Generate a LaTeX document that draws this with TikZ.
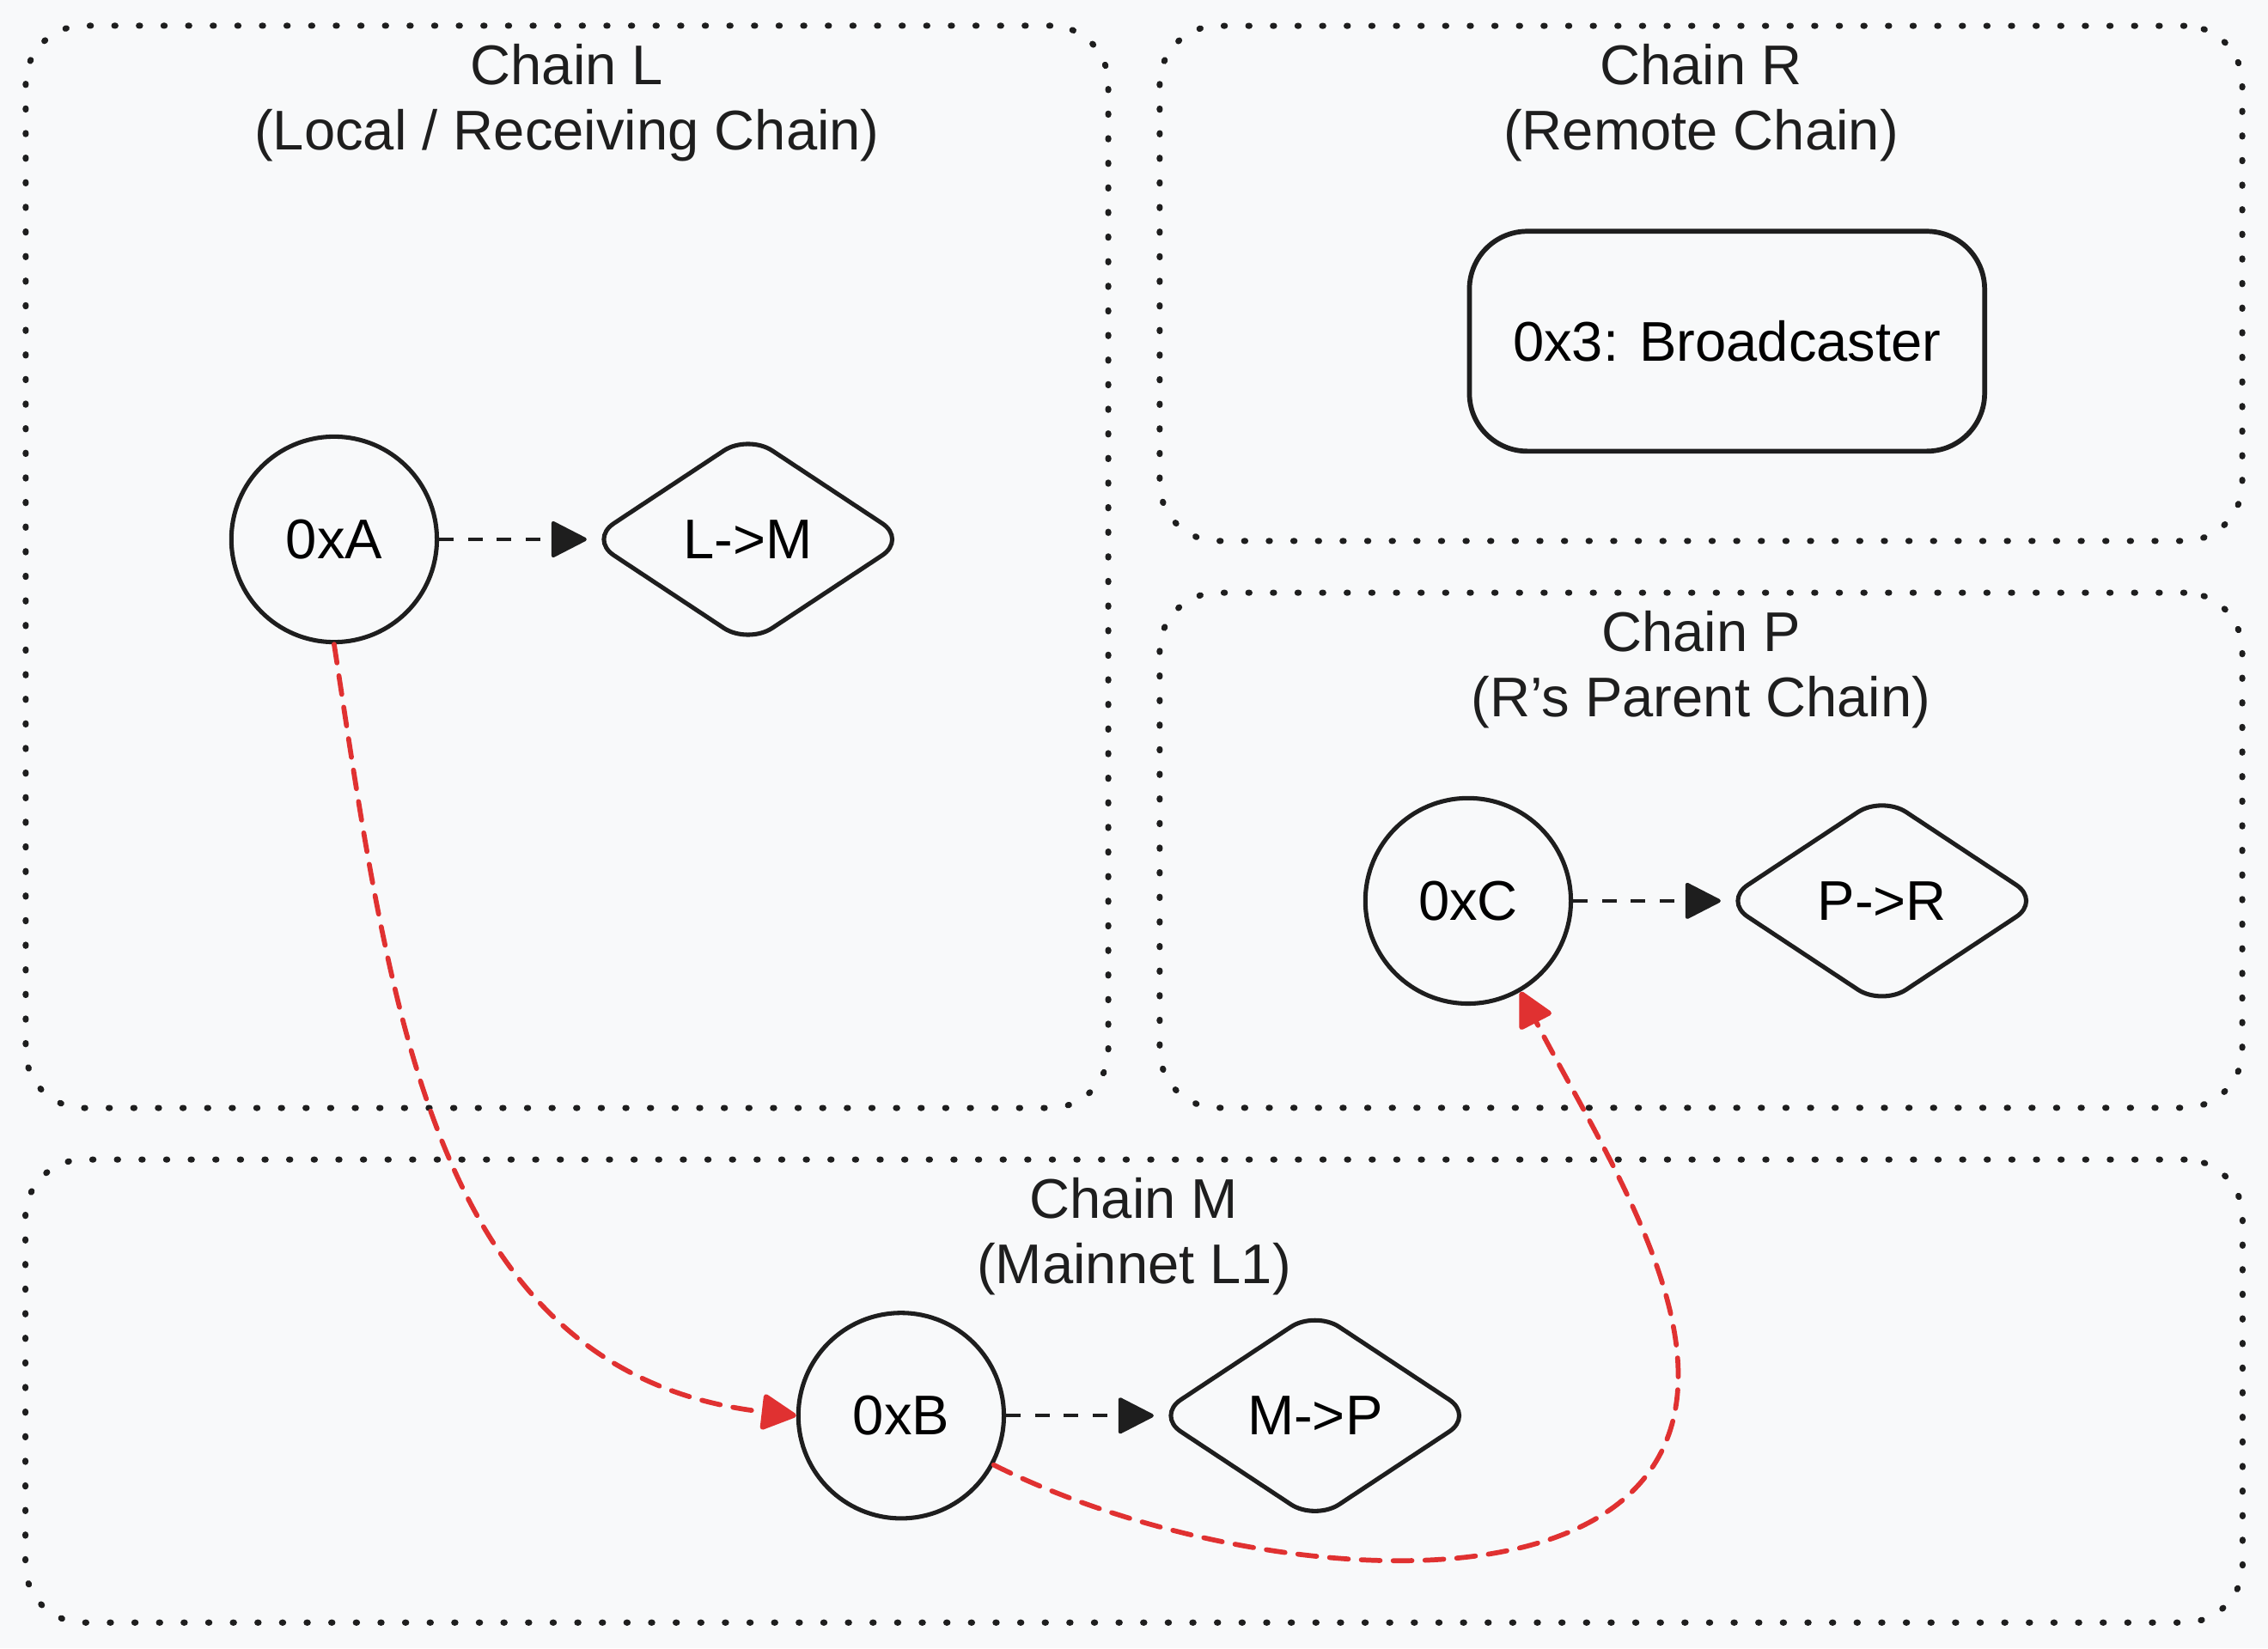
\documentclass[tikz,border=0pt]{standalone}
\usepackage{fontspec}
\setmainfont{Liberation Sans}
\usetikzlibrary{positioning,shapes.geometric,arrows.meta}
\definecolor{paper}{HTML}{F8F9FA}
\definecolor{ink}{HTML}{1E1E1E}
\definecolor{relayred}{HTML}{E03131}

\begin{document}
\begin{tikzpicture}[x=0.01cm,y=-0.01cm,font=\fontsize{11}{12.8}\selectfont,
  chain box/.style={draw=ink,line width=0.42mm,dash pattern=on 0.08mm off 1.62mm,
    line cap=round,rounded corners=4mm,inner sep=0pt},
  chain title/.style={align=center,inner sep=0pt,text=ink},
  addr node/.style={circle,draw=ink,line width=0.3mm,minimum size=1.42cm,inner sep=0pt},
  route node/.style={diamond,draw=ink,line width=0.3mm,minimum width=2.2cm,
    minimum height=1.46cm,rounded corners=2mm,inner sep=0pt},
  contract node/.style={rectangle,draw=ink,line width=0.34mm,minimum width=3.56cm,
    minimum height=1.52cm,rounded corners=4mm},
  flow/.style={draw=ink,line width=0.26mm,dash pattern=on 1mm off 1mm,
    -{Triangle[length=2.6mm,width=2.6mm,round]}},
  relay/.style={draw=relayred,line width=0.34mm,dash pattern=on 1.3mm off 0.9mm,
    line cap=round,-{Triangle[length=2.6mm,width=2.6mm,round]}}]

  \fill[paper] (0,0) rectangle (1568,1140);

  % chains
  \node[chain box,minimum width=7.48cm,minimum height=7.48cm] (chainL) at (392,392) {};
  \node[chain box,minimum width=7.48cm,minimum height=3.56cm] (chainR) at (1176,196) {};
  \node[chain box,minimum width=7.48cm,minimum height=3.56cm] (chainP) at (1176,588) {};
  \node[chain box,minimum width=15.32cm,minimum height=3.20cm] (chainM) at (784,962) {};

  \node[chain title] [below=1.4mm of chainL.north] {Chain L\\(Local / Receiving Chain)};
  \node[chain title] [below=1.4mm of chainR.north] {Chain R\\(Remote Chain)};
  \node[chain title] [below=1.4mm of chainP.north] {Chain P\\(R's Parent Chain)};
  \node[chain title] [below=1.4mm of chainM.north] {Chain M\\(Mainnet L1)};

  % contracts
  \node[contract node] (bcast) at (1194,236) {0x3: Broadcaster};
  \node[addr node] (addrA) at (231,373) {0xA};
  \node[route node] (routeLM) [right=1.02cm of addrA] {L->M};
  \node[addr node] (addrC) at (1015,623) {0xC};
  \node[route node] (routePR) [right=1.02cm of addrC] {P->R};
  \node[addr node] (addrB) at (623,979) {0xB};
  \node[route node] (routeMP) [right=1.02cm of addrB] {M->P};

  \coordinate (turn) at (1160,960);

  \path[flow] (addrA) -- (routeLM);
  \path[flow] (addrC) -- (routePR);
  \path[flow] (addrB) -- (routeMP);

  \path[relay] (addrA.south) .. controls (270,700) and (300,950) .. (addrB.west);
  \path[relay] (addrB.-28) .. controls (850,1095) and (1150,1125) .. (turn)
    .. controls (1165,880) and (1100,780) .. (addrC.-60);
\end{tikzpicture}
\end{document}
